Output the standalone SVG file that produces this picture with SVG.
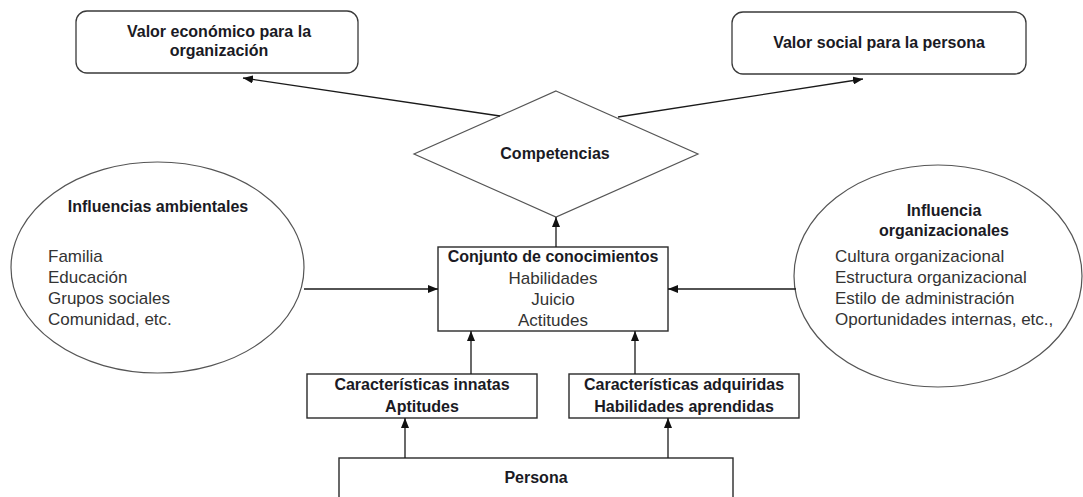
<svg xmlns="http://www.w3.org/2000/svg" width="1083" height="497" viewBox="0 0 1083 497">
<defs>
<style>
.bg{fill:#ffffff}
.box{fill:#ffffff;stroke:#2a2a2a;stroke-width:1.4}
.rbox{fill:#ffffff;stroke:#3a3a3a;stroke-width:1.3}
.shape{fill:#ffffff;stroke:#555555;stroke-width:1.2}
.b{font-family:"Liberation Sans",Arial,sans-serif;font-weight:bold;font-size:16px;fill:#1a1a24}
.r{font-family:"Liberation Sans",Arial,sans-serif;font-size:17px;fill:#333333}
.c{text-anchor:middle}
.conn line{stroke:#1a1a1a;stroke-width:1.3;marker-end:url(#ah)}
</style>
<marker id="ah" markerUnits="userSpaceOnUse" markerWidth="10" markerHeight="8" refX="10" refY="4" orient="auto">
<path d="M0,0 L10,4 L0,8 z" fill="#111111"/>
</marker>
</defs>
<rect class="bg" x="0" y="0" width="1083" height="497"/>

<g id="valor-economico">
<rect class="rbox" x="76" y="11" width="282" height="62" rx="11"/>
<text class="b c" x="219" y="37">Valor económico para la</text>
<text class="b c" x="219" y="56">organización</text>
</g>

<g id="valor-social">
<rect class="rbox" x="732" y="12" width="294" height="62" rx="11"/>
<text class="b c" x="879" y="48">Valor social para la persona</text>
</g>

<g id="competencias">
<polygon class="shape" points="556,91 698,154 556,217 414,154"/>
<text class="b c" x="555" y="159">Competencias</text>
</g>

<g id="influencias-ambientales">
<ellipse class="shape" cx="157.5" cy="267.5" rx="146.5" ry="105.5"/>
<text class="b c" x="158" y="212">Influencias ambientales</text>
<text class="r" x="48" y="262">Familia</text>
<text class="r" x="48" y="283">Educación</text>
<text class="r" x="48" y="304">Grupos sociales</text>
<text class="r" x="48" y="325">Comunidad, etc.</text>
</g>

<g id="influencia-organizacionales">
<ellipse class="shape" cx="938" cy="276" rx="144" ry="111"/>
<text class="b c" x="944" y="216">Influencia</text>
<text class="b c" x="944" y="236">organizacionales</text>
<text class="r" x="835" y="262">Cultura organizacional</text>
<text class="r" x="835" y="283">Estructura organizacional</text>
<text class="r" x="835" y="304">Estilo de administración</text>
<text class="r" x="835" y="325">Oportunidades internas, etc.,</text>
</g>

<g id="conjunto">
<rect class="box" x="438" y="247" width="230" height="84"/>
<text class="b c" x="553" y="262">Conjunto de conocimientos</text>
<text class="r c" x="553" y="284">Habilidades</text>
<text class="r c" x="553" y="305">Juicio</text>
<text class="r c" x="553" y="326">Actitudes</text>
</g>

<g id="innatas">
<rect class="box" x="307" y="374" width="230" height="44"/>
<text class="b c" x="422" y="390">Características innatas</text>
<text class="b c" x="422" y="412">Aptitudes</text>
</g>

<g id="adquiridas">
<rect class="box" x="569" y="374" width="230" height="44"/>
<text class="b c" x="684" y="390">Características adquiridas</text>
<text class="b c" x="684" y="412">Habilidades aprendidas</text>
</g>

<g id="persona">
<rect class="box" x="339" y="458" width="394" height="50"/>
<text class="b c" x="536" y="483">Persona</text>
</g>

<g id="connectors" class="conn">
<line x1="500" y1="116" x2="243" y2="78"/>
<line x1="618" y1="117" x2="863" y2="79"/>
<line x1="556" y1="247" x2="556" y2="217"/>
<line x1="304" y1="289" x2="438" y2="289"/>
<line x1="796" y1="289" x2="668" y2="289"/>
<line x1="471" y1="374" x2="471" y2="331"/>
<line x1="635" y1="374" x2="635" y2="331"/>
<line x1="405" y1="458" x2="405" y2="418"/>
<line x1="668" y1="458" x2="668" y2="418"/>
</g>
</svg>
